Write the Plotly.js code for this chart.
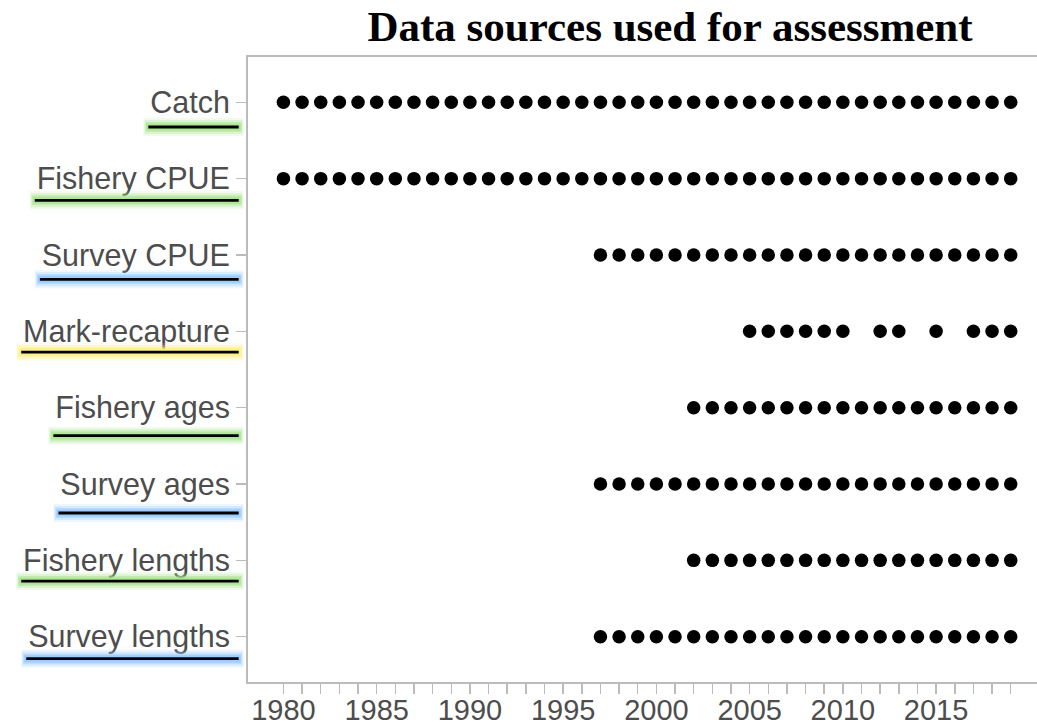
<!DOCTYPE html>
<html>
<head>
<meta charset="utf-8">
<script src="https://cdn.plot.ly/plotly-3.0.1.min.js"></script>
<style>html,body{margin:0;padding:0;overflow:hidden;background:#fff}</style>
</head>
<body>
<div id="chart" style="width:1037px;height:726px"></div>
<script>
// ---- data ----
const sources = ["Catch", "Fishery CPUE", "Survey CPUE", "Mark-recapture",
                 "Fishery ages", "Survey ages", "Fishery lengths", "Survey lengths"];

const catchYears = [1980,1981,1982,1983,1984,1985,1986,1987,1988,1989,1990,1991,1992,1993,1994,1995,1996,1997,1998,1999,2000,2001,2002,2003,2004,2005,2006,2007,2008,2009,2010,2011,2012,2013,2014,2015,2016,2017,2018,2019];
const fisheryCpueYears = [1980,1981,1982,1983,1984,1985,1986,1987,1988,1989,1990,1991,1992,1993,1994,1995,1996,1997,1998,1999,2000,2001,2002,2003,2004,2005,2006,2007,2008,2009,2010,2011,2012,2013,2014,2015,2016,2017,2018,2019];
const surveyCpueYears = [1997,1998,1999,2000,2001,2002,2003,2004,2005,2006,2007,2008,2009,2010,2011,2012,2013,2014,2015,2016,2017,2018,2019];
const markRecaptureYears = [2005,2006,2007,2008,2009,2010,2012,2013,2015,2017,2018,2019];
const fisheryAgesYears = [2002,2003,2004,2005,2006,2007,2008,2009,2010,2011,2012,2013,2014,2015,2016,2017,2018,2019];
const surveyAgesYears = [1997,1998,1999,2000,2001,2002,2003,2004,2005,2006,2007,2008,2009,2010,2011,2012,2013,2014,2015,2016,2017,2018,2019];
const fisheryLengthsYears = [2002,2003,2004,2005,2006,2007,2008,2009,2010,2011,2012,2013,2014,2015,2016,2017,2018,2019];
const surveyLengthsYears = [1997,1998,1999,2000,2001,2002,2003,2004,2005,2006,2007,2008,2009,2010,2011,2012,2013,2014,2015,2016,2017,2018,2019];

const yearsBySource = [catchYears, fisheryCpueYears, surveyCpueYears, markRecaptureYears,
                       fisheryAgesYears, surveyAgesYears, fisheryLengthsYears, surveyLengthsYears];

const xTickYears = [1980,1981,1982,1983,1984,1985,1986,1987,1988,1989,1990,1991,1992,1993,1994,1995,1996,1997,1998,1999,2000,2001,2002,2003,2004,2005,2006,2007,2008,2009,2010,2011,2012,2013,2014,2015,2016,2017,2018,2019];
const xTickLabels = ["1980","1985","1990","1995","2000","2005","2010","2015"];

const titleText = "Data sources used for assessment";

// ---- styling (label highlight decorations) ----
const GREEN = "#a6e48a", BLUE = "#93c8ff", YELLOW = "#fff07a";
const highlightColor = [GREEN, GREEN, BLUE, YELLOW, GREEN, BLUE, GREEN, BLUE];
const underlineDropPx = [24.7, 21.7, 24.3, 20.7, 28, 29, 20.7, 22];

const fontSans = "Liberation Sans, Arial, sans-serif";
const plotLeft = 248, plotTop = 57, plotBottom = 44, W = 1037, H = 726;
const plotW = W - plotLeft, plotH = H - plotTop - plotBottom;
const yRange = [7.593, -0.593];
const unitsPerPx = Math.abs(yRange[0] - yRange[1]) / plotH;

const traces = sources.map((s, i) => ({
  type: "scatter", mode: "markers",
  x: yearsBySource[i],
  y: yearsBySource[i].map(() => s),
  marker: {color: "#000", size: 13.5, line: {width: 0}},
  hoverinfo: "x+y", showlegend: false
}));

// measure label widths
const ctx = document.createElement("canvas").getContext("2d");
ctx.font = '30.5px "Liberation Sans"';
const labelRightPx = 19;   // gap between label end and axis line
const lineEndPx = 9.3;     // underline ends before axis line

const shapes = [];
sources.forEach((s, i) => {
  const w = ctx.measureText(s).width;
  const x0 = -(labelRightPx + w + 1) / plotW;
  const x1 = -lineEndPx / plotW;
  const y = i + underlineDropPx[i] * unitsPerPx;
  const c = highlightColor[i];
  [[18, 0.15, 5], [14, 0.25, 4], [10, 0.45, 3], [7, 0.7, 2]].forEach(([lw, op, ext]) => {
    shapes.push({type: "line", xref: "paper", yref: "y", x0: x0 - ext/plotW, x1: x1 + ext/plotW, y0: y, y1: y,
      line: {color: c, width: lw}, opacity: op, layer: "above"});
  });
  shapes.push({type: "line", xref: "paper", yref: "y", x0: x0, x1: x1, y0: y, y1: y,
    line: {color: "#000", width: 2.8}, layer: "above"});
});

const layout = {
  width: W, height: H,
  margin: {l: plotLeft, r: 0, t: plotTop, b: plotBottom, pad: 0},
  paper_bgcolor: "#fff", plot_bgcolor: "#fff",
  title: {
    text: "<b>" + titleText + "</b>",
    font: {family: "Liberation Serif, Times New Roman, serif", size: 43, color: "#000"},
    xref: "container", x: 670 / W, xanchor: "center",
    yref: "container", y: 1 - 26 / H, yanchor: "middle"
  },
  xaxis: {
    range: [1978.1, 2020.41],
    tickmode: "array",
    tickvals: xTickYears,
    ticktext: xTickYears.map(y => xTickLabels.includes(String(y)) ? String(y) : ""),
    ticks: "outside", ticklen: 10, tickwidth: 1.5, tickcolor: "#bbbbbb",
    showline: true, linecolor: "#bbbbbb", linewidth: 2, mirror: true,
    showgrid: false, zeroline: false,
    tickfont: {family: fontSans, size: 29, color: "#4d4d4d"},
    ticklabelstandoff: -9,
    fixedrange: true
  },
  yaxis: {
    type: "category",
    categoryorder: "array", categoryarray: sources,
    range: yRange,
    ticks: "outside", ticklen: 10, tickwidth: 1.5, tickcolor: "#bbbbbb",
    showline: true, linecolor: "#bbbbbb", linewidth: 2,
    showgrid: false, zeroline: false,
    tickfont: {family: fontSans, size: 30.5, color: "#4d4d4d"},
    ticklabelstandoff: 0,
    fixedrange: true
  },
  shapes: shapes,
  showlegend: false
};

Plotly.newPlot("chart", traces, layout, {displayModeBar: false, staticPlot: true});
</script>
</body>
</html>
